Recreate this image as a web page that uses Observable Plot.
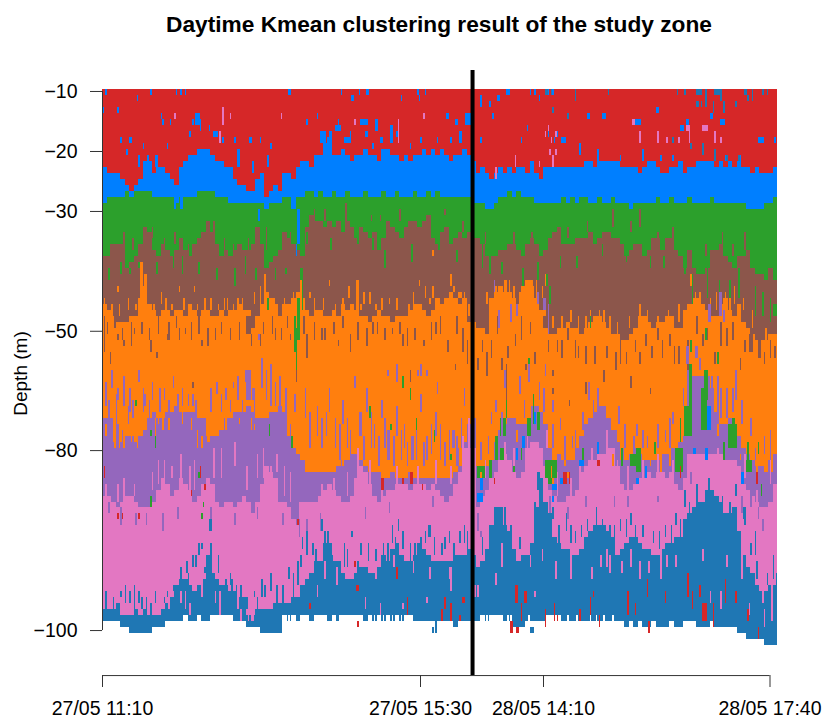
<!DOCTYPE html>
<html><head><meta charset="utf-8">
<script src="https://cdn.jsdelivr.net/npm/d3@7"></script>
<script src="https://cdn.jsdelivr.net/npm/@observablehq/plot@0.6"></script>
<style>
html,body{margin:0;padding:0;background:#fff}
#t{height:48px;width:878px;text-align:center;font:bold 22.7px "Liberation Sans",sans-serif;line-height:48px;color:#000;white-space:nowrap;overflow:visible}
svg{display:block}
</style></head><body>
<div id="t">Daytime Kmean clustering result of the study zone</div>
<div id="c"></div>
<script>
const clusters=["c1","c2","c3","c4","c5","c6","c7","c8"];
const clusterColors=["#d62728","#007fff","#2ca02c","#8c564b","#ff7f0e","#9467bd","#e377c2","#1f77b4"];
const xTickCols=[0,212,294,445];
const xTickLabels=["27/05 11:10","27/05 15:30","28/05 14:10","28/05 17:40"];
const yTickRows=[0.33,10.37,20.4,40.44,60.4,90.5];
const yTickLabels=["−10","−20","−30","−50","−80","−100"];
const markerCol=246.7;
// Upper edge (row) of each band, per sampled column
const blueTop=[13,14,14,14,15,16,17,16,15,12,
12,14,13,13,14,15,16,13,12,11,
11,10,10,10,11,12,12,13,13,15,
16,16,17,17,15,14,18,17,16,17,
14,14,15,13,12,12,13,11,11,9,
8,11,11,10,11,12,11,11,10,11,
11,12,10,10,11,11,12,11,12,11,
11,10,11,10,11,10,11,12,11,11,
10,11,12,14,13,14,15,14,13,14,
13,14,13,13,14,12,14,15,13,13,
13,13,13,13,13,13,13,12,12,13,
12,12,12,12,12,13,13,13,13,14,
13,12,12,13,14,14,13,13,12,14,
13,13,12,12,12,12,13,12,13,12,
13,12,13,13,14,13,14,14,14,13];
const greenTop=[19,18,18,18,18,17,18,17,17,17,
17,18,18,18,18,18,19,18,18,18,
18,17,17,17,17,18,18,18,19,19,
19,19,19,19,19,19,20,19,19,19,
18,18,20,18,18,17,17,18,17,18,
18,17,18,18,17,18,18,18,17,18,
18,18,17,18,18,17,18,18,18,17,
18,18,17,18,17,18,18,18,18,18,
18,18,19,19,19,20,20,19,18,18,
17,18,17,18,18,18,19,19,19,19,
19,19,18,19,18,19,18,18,19,19,
18,19,19,18,19,19,19,20,19,19,
19,19,19,18,19,19,18,19,19,19,
18,19,19,19,19,18,19,19,19,19,
19,19,19,20,20,20,20,19,19,18];
const brownTop=[28,28,26,26,26,30,29,28,26,23,
24,27,28,26,27,28,27,25,27,28,
26,25,24,22,24,26,28,27,28,27,
26,27,27,26,23,26,30,29,28,27,
24,25,26,27,28,23,21,22,22,23,
22,23,22,24,22,23,25,23,24,25,
24,27,25,22,23,24,25,23,22,22,
23,22,21,25,26,24,23,26,25,24,
25,24,25,25,26,28,28,28,27,27,
26,26,27,28,26,25,26,28,27,25,
24,23,26,26,26,25,25,25,24,26,
25,24,24,25,25,26,28,27,26,26,
28,27,25,25,27,25,25,27,28,30,
27,30,31,31,30,27,27,26,28,29,
30,28,28,27,30,31,31,32,30,32];
const orangeTop=[36,37,38,39,39,39,38,38,35,33,
36,37,38,37,37,38,37,37,38,36,
37,38,37,37,38,38,37,38,37,37,
36,37,37,40,38,36,34,35,36,38,
36,36,35,34,35,37,38,37,37,38,
38,37,38,36,37,36,37,38,38,39,
38,37,38,38,39,38,38,38,37,36,
36,37,38,37,35,36,35,34,35,36,
35,39,39,40,40,41,35,34,33,34,
34,35,36,33,32,33,35,37,40,41,
41,40,40,39,40,40,41,40,39,38,
38,39,40,41,41,42,42,41,40,38,
38,39,40,39,39,38,38,40,40,37,
36,35,35,36,37,38,38,36,35,37,
38,36,39,40,41,42,42,42,41,41];
const purpleTop=[55,55,55,56,57,58,58,59,58,57,
55,54,55,55,54,54,53,54,54,54,
54,55,55,56,58,58,57,55,55,54,
54,54,53,54,55,55,55,54,54,53,
54,58,60,61,62,64,64,64,64,64,
64,64,63,62,62,61,61,62,63,64,
64,64,65,65,64,65,65,65,64,65,
65,65,65,65,65,65,65,65,64,63,
59,56,55,63,63,63,62,59,57,56,
55,55,56,56,56,55,53,54,56,60,
62,61,62,62,62,60,58,56,55,54,
53,53,55,57,59,60,62,61,60,61,
62,62,62,62,61,61,60,60,59,58,
50,48,48,48,48,50,54,56,56,55,
56,58,60,61,62,63,63,64,62,61];
const pinkTop=[68,68,69,70,69,68,68,69,70,70,
70,69,67,65,66,68,67,65,66,67,
69,68,66,65,66,69,70,69,69,70,
69,68,69,71,69,66,63,64,65,69,
69,70,72,73,69,69,69,69,68,67,
66,67,68,69,69,68,65,63,64,66,
68,69,68,67,67,66,66,66,67,66,
66,66,67,66,67,68,69,68,66,64,
60,60,60,70,68,67,65,64,62,61,
62,64,65,64,60,59,59,60,63,67,
68,69,69,68,68,67,64,63,62,62,
61,61,60,60,63,66,67,67,66,65,
65,64,65,64,64,65,64,66,67,65,
61,61,61,61,61,61,61,61,62,62,
62,63,66,67,68,69,70,70,69,66];
const deepTop=[87,87,87,86,88,88,88,87,88,87,
88,88,88,87,86,85,83,82,82,83,
84,83,82,78,81,82,83,83,84,84,
85,85,88,89,87,87,87,87,86,86,
86,86,85,85,83,82,81,79,79,76,
76,79,79,81,82,82,81,80,80,81,
81,80,78,79,77,76,78,79,79,78,
76,77,78,79,79,79,79,79,78,78,
78,77,78,80,79,77,73,70,70,73,
74,77,79,78,78,76,70,65,69,71,
75,76,77,77,78,78,77,75,74,73,
73,73,74,75,78,77,76,75,75,76,
77,77,78,78,77,76,76,75,75,72,
71,70,69,69,67,67,68,69,71,71,
70,74,78,80,81,83,84,84,83,83];
const floorRow=[89,89,89,89,90,90,91,91,91,91,
91,90,90,90,89,89,89,89,88,89,
89,88,89,89,88,88,88,88,88,89,
89,89,90,90,90,91,91,91,91,91,
88,89,88,89,88,88,89,88,88,88,
89,88,89,88,88,88,88,88,89,88,
89,88,89,88,89,88,89,88,88,89,
89,89,89,89,89,89,89,89,90,89,
89,89,89,89,88,89,88,88,88,89,
89,90,90,90,89,89,89,89,89,88,
88,88,89,89,89,89,89,89,89,89,
89,89,89,89,89,89,90,89,90,89,
90,90,89,90,90,90,89,90,90,89,
89,89,90,90,90,89,90,90,90,90,
90,91,91,92,92,92,92,93,93,93];
// Stray runs: [column, first row, last row, width]
const brightRuns=[[0,3,4],[2,0,1],[23,1,2],[32,0,1],[49,0,1],[52,0,1],[55,0,1],[10,3,4],[39,4,5],[40,5,6],[45,5,6],[60,5,6],[62,4,6,3],[65,5,7],[71,6,7],[74,7,8,3],[80,8,9],[12,8,9],[18,8,9,2],[27,9,10],[43,9,10],[58,7,8],[88,8,9],[98,8,9,2],[105,8,9],[112,9,10],[16,10,11],[24,11,13],[30,11,13],[35,11,13,2],[70,10,12],[90,10,13,2],[100,12,14],[110,11,13],[36,16,18],[48,18,20],[52,17,20,2],[94,17,19],[104,20,22],
[124,0,1,2],[159,0,1],[171,0,1],[176,0,1,2],[166,1,2,2],[199,1,2],[211,1,2],[210,0,1],[215,0,1],[143,4,5],[157,5,6],[172,5,6,5],[182,5,7,2],[229,4,5,2],[235,5,6,2],[242,4,6,4],[145,7,9,4],[151,7,9,2],[155,6,7,4],[165,7,8],[161,8,9,5],[185,8,9,2],[192,6,9,2],[212,8,9],[223,8,9],[232,8,9],[238,7,9,2],[136,5,6],[180,9,10],[205,9,10],[148,9,11,2],[175,7,8,2],[196,7,8],[130,20,26,2],[129,26,28],
[252,1,3],[260,4,5],[258,2,3],[263,1,2,2],[269,0,1,3],[285,0,1],[288,0,1],[291,1,2],[296,0,1,2],[300,0,1],[252,8,9],[279,8,9],[283,6,7],[297,7,8],[301,8,9],
[323,4,5,2],[333,4,5,3],[355,5,6,4],[369,3,4,2],[385,6,7,3],[389,5,6,2],[405,4,5,2],[412,5,6,3],[437,8,9,4],[306,8,9,3],[302,7,8,2],[448,8,9],[318,9,11],[330,10,12],[345,11,12],[360,10,12],[372,11,12],[340,12,13],[380,11,12],[400,10,11],[415,11,12,2],[425,11,13],
[250,67.5,69,4],[252,65,67,2],[276,60,62],[280,58,60,2],[288,54,56],[403,53,57,3],[426,64,66,2],[356,65,66,2],[330,59,61],[300,66,67,3],[305,65,66,4],[394,60,61,2],[402,60,62,2],[318,62,63,3],[362,63,65],[300,68,69]];
const deepRuns=[[295,0,1,2],[299,0,1],[315,0,2],[337,0,1],[383,0,1],[388,0,1],[396,0,1,4],[402,0,2],[408,0,1,4],[412,0,2],[428,0,1,2],[433,0,2],[440,0,1],[443,0,1],[396,2,3,2],[399,2,3],[402,2,3],[407,2,4],[414,2,4],[422,2,3],[430,1,2],[300,3,4],[310,4,5],[380,8,9],[392,9,10],[400,9,11],[408,10,12],[416,11,12],[424,11,12],
[24,84,86],[15,83,86],[18,84,86],[12,84,85],[29,85,87],[35,84,86],[47,83,84],[43,84,85],[52,80,84],[56,79,81],[64,76,78],[57,81,83],[62,78,80],[68,80,81],[72,76,82],[77,78,81],[86,82,84],[92,83,85],[85,81,83],[101,84,85],[101,88,90],[103,85,87],[108,83,85],[116,83,86],[71,72,74,2],[66,76,77],
[130,79,83],[127,81,85],[133,75,77],[140,76,78],[146,72,74],[150,74,76],[161,76,80],[166,74,75],[172,76,78],[190,76,80],[195,75,76],[197,72,74],[205,76,79],[212,75,76],[217,73,75,2],[228,75,77],[234,76,78],[238,74,76],[243,74,77],[222,89,91],[220,90,91],
[264,72,74],[272,73,75],[278,75,77],[288,69,72],[290,64,67,2],[300,70,72],[309,71,74],[315,74,76],[323,72,74],[329,70,73],[338,73,75],[345,72,74],[352,71,73],[360,73,75],[367,74,76],[375,73,75],[382,71,73],[388,67,70],[391,69,71],[396,66,69],[418,69,71],[422,66,68],[432,76,78],[436,79,82],[443,81,83],[447,78,82],[449,81,83],[285,90,91,3],
[2,84,87],[7,85,87],[21,83,87],[26,85,87],[32,86,88],[41,85,86],[50,83,86],[54,84,85],[60,78,80],[69,81,83],[75,82,84],[82,82,83],[89,83,85],[96,85,87],[106,82,85],[112,81,84],[120,83,86],[124,80,82],[132,78,80],[136,74,78],[142,77,79],[148,74,78],[153,78,80],[158,79,82],[163,77,80],[170,79,82],[177,76,79],[182,77,79],[187,76,79],[193,73,76],[200,74,77],[208,76,79],[215,74,76],[221,75,78],[226,76,78],[231,74,76],[241,73,76],[253,75,78],[258,74,76],[268,70,73],[294,70,73],[296,71,74],[304,73,76],[312,73,76],[319,73,75],[333,72,74],[341,73,76],[349,72,75],[355,73,76],[371,74,77],[379,73,76],[385,72,75],[404,65,68],[413,68,71],[428,70,73],[427,70,72],[435,74,78]];
const redRuns=[[1,63,65],[10,71,72],[13,71,72],[24,71,72],[59,67,68],[65,63,65],[68,66,67],[130,72,73],[168,79,80],[169,83,84,2],[138,86,87],[203,85,88],[228,85,87],[238,88,89],[240,85,86,2],[196,80,82],[186,65,67,2],[170,89,90],[200,65,66],[205,64,66,2],[213,66,67],[226,87,89],[232,86,89],[246,63,65],[261,65,66],[275,83,86,2],[279,86,89],[281,84,86,2],[272,89,91,2],[276,90,91,2],[295,87,90],[301,86,89],[307,64,66,3],[311,64,66],[303,88,89],[325,85,88],[327,84,85],[318,87,89],[330,62,63,2],[331,88,90],[340,88,89],[350,84,88],[355,86,88],[363,82,85],[375,84,86],[385,63,65],[390,81,85],[393,84,87],[398,83,85],[400,86,89,3],[407,86,90],[415,82,86],[422,84,86],[430,87,89],[436,64,66],[437,90,92],[364,89,91]];
const greenRuns=[[129,40,47],[130,35,42,2],[132,30,37,2],[128,38,44],[105,33,36],[110,35,37],[126,58,60],[111,56,58],[22,52,53],[32,57,58],[35,58,60],[32,68,70],[61,62,63],[64,64,65],[67,69,70],[66,71,72],[209,55,58],[221,57,59],[190,60,62],[192,56,57],[178,53,55],[200,48,50],[205,50,52],[225,61,62],[232,61,62],[265,55,58,4],[269,50,55],[283,55,58,3],[290,54,57,2],[287,51,56],[250,63,65,6],[258,62,65,2],[262,58,62,2],[265,60,62,3],[274,63,64],[279,60,62],[295,62,65,8],[297,64,66,3],[320,60,62],[352,61,63,6],[356,60,64,3],[346,60,63],[368,59,61],[382,60,64,5],[385,55,59],[388,53,58,5],[391,46,53,2],[399,50,57,4],[401,47,52,3],[417,56,60,6],[414,59,62],[420,55,59,2],[428,62,64,5],[430,59,63],[437,59,61],[439,66,68],[325,38,40],[392,42,44],[402,40,42],[410,44,46],[296,31,33],[284,45,47],[298,33,36],[440,34,36],[447,36,38,3],
[4,30,32],[12,29,31],[18,30,31],[24,29,30],[36,29,31],[47,28,30],[53,28,31],[64,29,31],[76,30,32],[88,30,33],[95,28,31],[102,30,32],[115,30,32],[122,30,31],[136,24,26],[152,25,27],[170,24,26],[180,25,27],[188,27,30],[206,26,29],[224,26,27],[236,27,29],[253,26,30],[258,28,31],[266,29,31],[280,30,33],[290,29,32],[305,28,30],[316,28,30],[333,26,28],[349,27,29],[365,28,30],[374,28,30],[388,28,31],[393,31,36],[403,30,35],[411,32,34],[418,32,35],[424,30,35],[435,33,38],[440,34,38],[445,35,39]];
const brownRuns=[[1,38,44],[10,41,42],[14,42,43],[21,40,41],[32,42,44],[43,41,42],[51,40,42],[66,42,43],[75,40,42],[96,38,41,3],[105,41,43],[115,40,42],[36,44,45],[5,44,46],[125,41,42],[136,41,45],[129,47,49],[148,40,42],[157,42,43],[165,41,44],[180,39,41],[193,40,41],[200,41,43],[208,40,42],[214,42,43],[222,39,41],[230,42,44],[240,40,44],[250,45,47],[253,42,44],[259,42,45],[266,45,47],[270,43,45],[275,41,43],[282,46,47],[288,44,46],[303,42,44],[300,47,48],[315,42,45],[310,40,42],[322,43,46],[345,42,46],[349,44,46],[355,42,44],[362,41,43],[370,40,42],[384,43,46],[378,41,43],[390,42,47],[400,41,43],[408,44,46],[416,40,43],[425,45,47],[431,41,44,3],[437,42,45,2],[445,42,45],[352,48,50],[300,50,51],[311,52,53],[322,49,51],[269,46,52],[334,47,49],[365,50,51],[60,49,50],[205,47,49],[235,46,47],
[3,39,41],[8,38,40],[13,40,42],[19,39,43],[26,39,41],[31,40,42],[37,38,41],[44,39,42],[49,38,40],[55,40,41],[59,39,42],[64,38,41],[70,40,43],[79,39,41],[85,40,42],[91,39,42],[99,41,43],[107,39,41],[113,38,41],[119,40,42],[123,38,40],[134,38,41],[141,39,42],[146,40,42],[154,39,41],[160,38,40],[170,39,42],[176,40,43],[183,39,41],[188,40,42],[198,39,41],[203,40,43],[219,39,42],[225,38,41],[236,38,41],[243,42,46],[256,44,48],[263,38,41],[279,38,42],[285,39,41],[297,42,44],[306,42,45],[317,43,45],[328,43,46],[336,43,45],[342,44,47],[358,44,46],[366,43,45],[373,42,45],[381,43,46],[396,38,41],[403,40,42],[412,39,43],[420,39,42],[428,42,44],[441,44,46],[448,43,45],
[5,26,28],[14,24,26],[20,25,27],[33,23,25],[41,25,27],[48,24,26],[57,26,28],[66,24,26],[74,22,25],[81,25,27],[87,26,28],[97,25,27],[109,23,27],[125,24,26],[141,20,22],[148,20,22],[162,19,22],[179,21,22],[185,21,22],[198,20,22],[216,21,23],[228,20,21],[240,22,24],[255,24,26],[274,24,26],[286,24,26],[310,23,25],[323,22,24],[340,20,23],[352,22,24],[358,20,23],[370,24,25],[380,23,25],[402,26,28],[413,24,28],[420,26,28],[428,24,27]];
const orangeRuns=[[25,29,35,2],[28,31,35,2],[10,33,34],[39,34,36],[51,33,34],[61,33,34],[72,35,37],[83,35,37],[90,35,36],[105,33,37],[108,31,34],[132,32,37],[138,34,35],[151,32,33],[164,33,35],[169,32,37,2],[174,34,36],[178,34,36],[186,35,37],[196,35,37],[211,32,33],[215,33,35],[220,33,35],[228,35,37],[232,31,33],[234,33,34],[237,34,35,3],[262,33,35],[268,32,35,2],[274,33,36],[285,32,35,2],[293,33,35],[295,31,33],[325,37,38],[331,37,39],[334,37,39],[377,37,38],[392,31,33],[395,34,36],[398,34,35],[415,34,36],[294,36,38,2],[220,27,28],
[8,55,60],[12,56,59],[16,56,58,2],[22,57,59],[35,55,58],[40,55,57],[63,57,60],[70,56,59,2],[99,55,57],[61,62,63],[66,58,60],[143,60,62],[150,62,64],[160,62,63],[170,61,62],[180,62,64],[250,58,62],[255,60,62],[425,61,62],[300,65,66],[308,61,63],[345,60,62],
[1,35,36],[6,36,38],[11,36,38],[17,35,37],[22,36,37],[29,35,37],[34,36,37],[42,35,37],[46,36,37],[54,35,37],[58,36,37],[63,36,37],[68,35,37],[77,36,37],[81,35,37],[87,36,37],[93,35,37],[101,34,36],[114,35,37],[121,35,37],[127,34,36],[141,35,37],[147,35,37],[155,36,37],[160,35,37],[172,36,37],[182,36,37],[191,35,36],[204,36,37],[207,34,37],[218,35,36],[224,35,37],[241,34,37],[244,36,38],[256,34,36],[260,35,38],[264,34,37],[271,32,34],[278,34,36],[282,33,36],[287,33,36],[289,32,35],[300,38,40],[306,38,40],[312,37,39],[317,38,40],[322,38,40],[328,38,40],[338,38,40],[343,39,41],[351,38,40],[358,36,38],[363,37,39],[370,38,40],[384,36,39],[397,35,37],[405,35,37],[409,34,37],[418,35,37],[421,33,36],[427,35,37],[433,37,40],[442,40,42],
[2,56,58],[7,55,59],[11,56,60],[14,57,60],[19,56,59],[23,58,60],[27,55,57],[37,54,56],[44,55,57],[53,54,56],[59,55,57],[69,55,58],[74,56,58],[82,55,57],[91,55,56],[101,56,57],[252,64,65],[276,57,59],[299,63,65],[303,65,66],[310,64,65],[340,61,63],[365,61,63],[372,61,64],[378,60,63],[410,56,58],[440,59,61],[446,62,64],[436,63,65]];
const purpleRuns=[[2,49,53],[6,47,50],[10,50,52],[14,48,53],[18,50,54],[24,47,49],[28,51,53],[33,49,52],[41,50,52],[47,48,50],[53,50,53],[60,51,53],[76,49,51],[82,50,52],[90,48,52],[95,47,49],[100,50,52],[96,47,52,3],[106,45,50],[112,46,53],[118,48,53],[104,41,42],[87,49,50],[122,50,54],[128,51,54],[125,56,58],[135,50,55],[143,53,58],[146,55,60],[151,50,54],[155,55,60],[160,52,56],[165,57,62],[171,54,58,2],[176,50,54],[181,56,60],[186,52,55],[190,57,62,2],[196,53,58],[201,56,60],[206,58,62,2],[212,51,54],[216,58,62],[222,54,58],[228,59,63],[233,57,60,2],[237,60,63],[241,50,53],[168,48,50],[190,47,48],[196,46,49],[210,47,48],[216,47,48],[212,46,48],[223,49,51],
[259,54,56],[262,52,54],[268,47,50],[278,48,51],[284,46,49],[291,49,52],[295,46,48],[300,52,54],[305,55,57],[313,58,60],[320,54,57],[324,49,52],[330,50,53],[338,55,59],[344,53,56],[356,56,58],[363,58,60],[375,57,59],[380,54,56],[390,47,50],[389,43,46,2],[398,45,47],[395,43,45,2],[406,48,52],[412,50,55],[420,50,54],[426,52,56],[435,60,62],[441,58,61],[297,36,41],[404,36,39,2],[411,34,38,2],[414,37,39],[261,32,34],[276,36,38],[272,36,39],[264,37,40],[294,35,37,2],[290,34,36],[448,63,65],
[4,52,55],[9,51,56],[17,53,56],[20,52,55],[27,50,54],[31,52,55],[38,50,54],[44,52,54],[50,51,54],[57,51,53],[62,52,54],[72,50,54],[79,51,54],[85,52,54],[93,52,55],[101,50,55],[109,47,52],[115,49,53],[138,54,60],[149,54,58],[158,56,62],[163,55,60],[174,58,62],[179,54,60],[184,58,63],[188,55,60],[194,58,63],[199,57,62],[203,59,63],[209,57,62],[214,59,63],[219,56,61],[225,56,62],[231,57,62],[236,58,63],[239,55,60],[252,59,62],[257,58,61],[266,54,58],[281,52,55],[286,53,55],[294,50,54],[300,56,60],[308,58,62],[315,57,60],[318,58,61],[327,52,55],[335,55,58],[342,57,60],[348,56,60],[354,58,61],[360,57,60],[370,56,60],[378,55,60],[387,50,53],[410,48,54],[416,50,55],[422,47,52],[432,55,58],[445,57,62],
[4,69,71],[12,70,73],[22,71,73],[29,71,73],[40,71,74],[50,70,72],[72,70,72],[88,71,73],[103,70,72],[120,71,73],[131,73,75],[136,72,74],[145,71,74],[175,70,72],[191,69,71],[220,68,70],[250,71,74],[252,74,75],[298,68,71],[310,70,72],[322,68,70],[341,68,70],[350,68,70],[370,68,69],[392,64,66],[432,68,70],[437,70,72],[440,72,74],[426,68,71]];
const pinkRuns=[[48,4,5],[78,7,9],[85,4,5],[80,3,6],[214,4,5],[168,5,6],[197,5,9],[119,4,5],[262,13,15],[275,11,13],[291,12,13],[295,7,8],[297,6,7],[299,8,9],[302,7,8],[298,10,11],[300,11,13],[302,10,11],[353,5,6,2],[370,7,9],[376,8,9],[384,8,9],[389,6,7,3],[391,7,9],[400,6,7,4],[408,7,9],[412,8,9],[358,7,9],
[5,82,84],[11,84,86],[20,86,88],[33,85,86],[36,82,85],[58,86,88],[66,79,80],[78,84,88],[92,87,89],[100,88,89],[155,77,78],[175,85,87],[185,86,88],[200,86,87],[216,85,86],[232,80,84],[248,83,85],[262,81,83],[288,84,85],[302,79,82],[312,78,82],[326,80,82],[338,78,81],[352,77,80],[358,79,82],[372,77,82],[382,78,80],[412,84,87],[430,74,76],[431,86,88],[434,72,74],[441,87,90],[446,86,89],
[2,66,68],[10,66,69],[14,65,69],[21,66,68],[33,64,67],[37,62,66],[41,62,66],[46,63,65],[52,61,65],[58,63,67],[61,62,67],[74,60,65],[79,60,65],[88,59,63],[96,63,67],[103,61,65],[107,60,65],[112,63,66],[116,61,64],[121,63,68],[125,64,69],[131,69,72],[146,66,69],[154,65,68],[163,64,68],[170,60,65],[178,62,66],[186,67,69],[196,63,66],[210,63,66],[222,62,66],[232,63,66],[240,58,62],[244,55,60],[255,62,65],[268,59,62],[274,60,63],[283,58,62],[296,57,60],[303,64,68],[312,65,68],[318,63,67],[326,60,63],[336,57,60],[343,62,66],[350,63,67],[360,62,65],[370,61,64],[380,62,65],[410,60,62],[428,61,65],[436,67,69],[445,62,66],
[16,86,88],[25,86,88],[44,85,87],[52,84,86],[55,84,87],[66,82,85],[75,84,86],[90,85,87],[97,87,89],[125,84,85],[143,83,85],[148,79,82],[156,80,83],[182,79,82],[194,78,80],[207,79,81],[218,80,82],[231,80,82],[250,83,85],[266,76,80],[285,78,80],[293,77,79],[312,78,80],[332,78,80],[336,77,80],[346,79,81],[364,79,81],[376,78,80],[400,77,79],[405,84,86],[416,78,80],[426,78,82],[438,82,84],[440,84,86],[446,83,86]];
const gapCols=[124,126,132,137,141,145,147,154,158,181,185,187,193,199,202,205,252,256,266,270,272,284,296,300,305,310,316,325,329,334,340];
const n=150,step=3;
const edges=[blueTop,greenTop,brownTop,orangeTop,purpleTop,pinkTop,deepTop,floorRow];
edges.forEach((a,k)=>{if(a.length!==n)throw new Error("edge "+k+" has "+a.length)});
const bands=[];
for(let i=0;i<n;i++){
  let top=0;
  edges.forEach((a,k)=>{bands.push({c1:i*step,c2:(i+1)*step,r1:top,r2:a[i],cluster:clusters[k]});top=a[i];});
}
const runs=[];
[[1,brightRuns],[2,greenRuns],[3,brownRuns],[4,orangeRuns],[5,purpleRuns],[6,pinkRuns],[7,deepRuns],[0,redRuns]].forEach(([k,l])=>{
  l.forEach(([c,a,b,w])=>runs.push({c1:c,c2:Math.min(450,c+(w||1)),r1:a,r2:b,cluster:clusters[k]}));
});
const chart=Plot.plot({
  width:824,height:671,marginLeft:102,marginRight:47,marginTop:41,marginBottom:74,
  style:{fontFamily:"Liberation Sans, sans-serif",background:"#fff"},
  x:{domain:[0,450],range:[102,777],axis:null},
  y:{domain:[0,93],range:[41,597],axis:null},
  color:{domain:clusters,range:clusterColors},
  marks:[
    Plot.rect(bands,{x1:"c1",x2:"c2",y1:"r1",y2:"r2",fill:"cluster",shapeRendering:"crispEdges"}),
    Plot.rect(runs,{x1:"c1",x2:"c2",y1:"r1",y2:"r2",fill:"cluster",shapeRendering:"crispEdges"}),
    Plot.rect(gapCols,{x1:d=>d,x2:d=>d+1,y1:88,y2:89,fill:"#fff",shapeRendering:"crispEdges"}),
    Plot.ruleX([0],{y1:yTickRows[0],y2:yTickRows[5],stroke:"#333"}),
    Plot.axisY(yTickRows,{anchor:"left",tickSize:12,tickPadding:13,fontSize:19.5,stroke:"#333",color:"#000",
      tickFormat:d=>yTickLabels[yTickRows.indexOf(d)],label:null}),
    Plot.ruleY([98.03],{x1:xTickCols[0],x2:xTickCols[3],stroke:"#333"}),
    Plot.axisX(xTickCols,{anchor:"bottom",tickSize:12,tickPadding:14,dy:30,fontSize:19.5,stroke:"#333",color:"#000",
      tickFormat:d=>xTickLabels[xTickCols.indexOf(d)],label:null}),
    Plot.text(["Depth (m)"],{frameAnchor:"left",dx:-82,dy:6,rotate:-90,fontSize:19,fill:"#000",textAnchor:"middle"}),
    Plot.ruleX([markerCol],{y1:-3.18,y2:98.03,stroke:"#000",strokeWidth:4})
  ]
});
document.getElementById("c").appendChild(chart);
</script>
</body></html>
